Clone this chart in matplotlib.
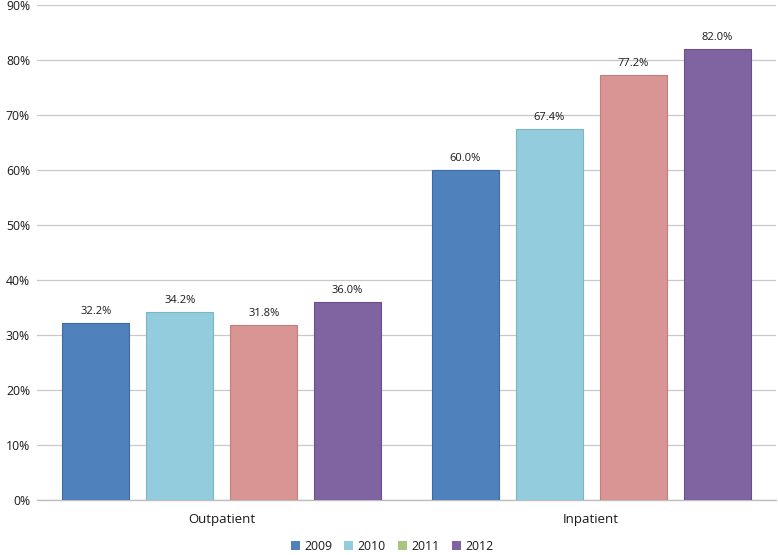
import matplotlib
matplotlib.use("Agg")
import matplotlib.pyplot as plt
from matplotlib.patches import Patch
import numpy as np

categories = ["Outpatient", "Inpatient"]
years = ["2009", "2010", "2011", "2012"]
values = {
    "2009": [32.2, 60.0],
    "2010": [34.2, 67.4],
    "2011": [31.8, 77.2],
    "2012": [36.0, 82.0],
}
bar_colors = ["#4F81BD", "#93CDDD", "#D99594", "#8064A2"]
edge_colors = ["#3F6CA0", "#7AB6C6", "#C27F7E", "#6A5088"]
legend_colors = ["#4F81BD", "#93CDDD", "#A9C47F", "#8064A2"]

plt.rcParams['font.family'] = ['Open Sans', 'DejaVu Sans']

fig = plt.figure(figsize=(7.78, 5.55), dpi=100)
ax = fig.add_axes([37/778, 1 - 500/555, (776-37)/778, (500-5)/555])

x = np.arange(len(categories))
step = 0.227
width = 0.181
for i, y in enumerate(years):
    pos = x + (i - 1.5) * step
    ax.bar(pos, values[y], width=width, color=bar_colors[i],
           edgecolor=edge_colors[i], linewidth=0.8, zorder=3)
    for p, v in zip(pos, values[y]):
        ax.text(p, v + 1.1, f"{v:.1f}%", ha="center", va="bottom",
                fontsize=8, color="#1A1A1A")

ax.set_xlim(-0.5, 1.5)
ax.set_ylim(0, 90)
ax.set_yticks(np.arange(0, 91, 10))
ax.set_yticklabels([f"{t}%" for t in range(0, 91, 10)], fontsize=8.8, color="#1A1A1A")
ax.set_xticks(x)
ax.set_xticklabels(categories, fontsize=9.5, color="#1A1A1A")
ax.tick_params(axis="y", length=0, pad=5)
ax.tick_params(axis="x", length=0, pad=9)
ax.yaxis.grid(True, color="#C8C8C8", linewidth=0.9, zorder=0)
for s in ["top", "right", "left"]:
    ax.spines[s].set_visible(False)
ax.spines["bottom"].set_color("#BEBEBE")
ax.spines["bottom"].set_linewidth(1.0)

handles = [Patch(facecolor=c, edgecolor='none') for c in legend_colors]
fig.legend(handles, years, loc="center", bbox_to_anchor=(392/778, 1 - 546/555),
           ncol=4, frameon=False, fontsize=8.8, handlelength=0.75, handleheight=0.75,
           handletextpad=0.35, columnspacing=1.0, labelcolor="#1A1A1A")

fig.savefig("out.png", dpi=100)
